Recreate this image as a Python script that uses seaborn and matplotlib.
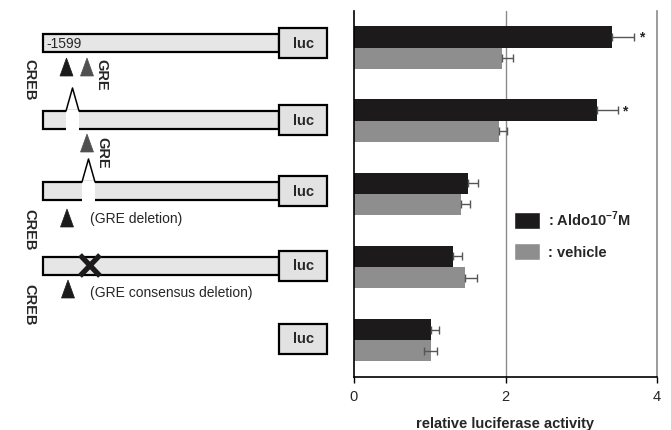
import matplotlib
matplotlib.use("Agg")
import matplotlib.pyplot as plt
from matplotlib.patches import Rectangle, Polygon, Patch
import pandas as pd
import seaborn as sns

# values
constructs = ["-1599", "CREB mut", "GRE del", "GRE cons del", "luc only"]
treatments = ["Aldo", "vehicle"]
aldo = [3.41, 3.21, 1.51, 1.31, 1.01]
aldo_err = [0.29, 0.27, 0.13, 0.11, 0.11]
vehicle = [1.96, 1.91, 1.41, 1.46, 1.01]
vehicle_err = [0.14, 0.11, 0.12, 0.16, 0.08]
vehicle_err_low = [0, 0, 0, 0, 0.08]
significant = [True, True, False, False, False]
xticks = [0, 2, 4]

BLACK = "#1c1a1b"
GRAY = "#8e8e8e"
FILL = "#e6e6e6"

sns.set_style("white")
plt.rcParams["font.family"] = ["Liberation Sans", "DejaVu Sans"]
plt.rcParams["mathtext.fontset"] = "custom"
plt.rcParams["mathtext.rm"] = "Liberation Sans"
plt.rcParams["mathtext.bf"] = "Liberation Sans:bold"

df = pd.DataFrame({
    "construct": constructs * 2,
    "activity": aldo + vehicle,
    "treatment": [treatments[0]] * 5 + [treatments[1]] * 5,
})

fig = plt.figure(figsize=(6.71, 4.31), dpi=100)
W, H = 671, 431

# schematic panel, drawn in pixel units
sch = fig.add_axes([0, 0, 1, 1], zorder=0)
sch.set_xlim(0, W)
sch.set_ylim(H, 0)
sch.axis("off")


def luc_box(yc):
    sch.add_patch(Rectangle((279, yc - 15), 48, 30, facecolor="#e2e2e2",
                            edgecolor="black", lw=1.6, zorder=3))
    sch.text(303, yc, "luc", ha="center", va="center", fontsize=10.5,
             fontweight="bold", zorder=4)


def promoter(yc, gap=None):
    sch.add_patch(Rectangle((43, yc - 9), 236, 18, facecolor=FILL,
                            edgecolor="black", lw=1.6, zorder=2))
    if gap is not None:
        g0, g1 = gap
        sch.add_patch(Rectangle((g0, yc - 10.5), g1 - g0, 21, facecolor="white",
                                edgecolor="none", zorder=2.5))
        sch.plot([g0, (g0 + g1) / 2, g1], [yc - 9, yc - 32, yc - 9],
                 color="black", lw=1.1, zorder=3)
    luc_box(yc)


def triangle(cx, ytop, color):
    sch.add_patch(Polygon([(cx - 6.5, ytop + 18), (cx + 6.5, ytop + 18), (cx, ytop)],
                          closed=True, facecolor=color, edgecolor=color,
                          lw=0.5, zorder=3))


def vlabel(x, y, s):
    sch.text(x, y, s, rotation=-90, ha="center", va="top", fontsize=10.5,
             fontweight="bold")


# row 1
promoter(44)
sch.text(46, 44, "-1599", ha="left", va="center", fontsize=10, zorder=4)
triangle(66.5, 59, BLACK)
triangle(87, 59, "#505050")
vlabel(101, 59, "GRE")
vlabel(29, 59, "CREB")

# row 2
promoter(121, gap=(66, 79))
triangle(87, 135, "#505050")
vlabel(102, 137, "GRE")

# row 3
promoter(192, gap=(82, 95))
triangle(67, 210, BLACK)
sch.text(90, 219, "(GRE deletion)", ha="left", va="center", fontsize=10)
vlabel(29, 209, "CREB")

# row 4
promoter(266.5)
sch.plot([80, 100], [256, 277], color=BLACK, lw=3.8, solid_capstyle="butt", zorder=4)
sch.plot([80, 100], [277, 256], color=BLACK, lw=3.8, solid_capstyle="butt", zorder=4)
triangle(68, 281, BLACK)
sch.text(90, 293, "(GRE consensus deletion)", ha="left", va="center", fontsize=10)
vlabel(29, 284, "CREB")

# row 5
luc_box(339.5)

# bar chart
ax = fig.add_axes([354 / W, 1 - 377.7 / H, 303 / W, 365.7 / H], zorder=1)
ax.set_facecolor("none")
sns.barplot(data=df, y="construct", x="activity", hue="treatment", orient="h",
            palette=[BLACK, GRAY], width=0.58, errorbar=None, legend=False,
            saturation=1, linewidth=0, ax=ax, zorder=2)

bars = ax.patches
for i, b in enumerate(bars[:5]):
    yc = b.get_y() + b.get_height() / 2
    ax.errorbar(aldo[i], yc, xerr=[[0], [aldo_err[i]]], fmt="none",
                ecolor="#555555", elinewidth=1, capsize=3, capthick=1, zorder=3)
    if significant[i]:
        ax.text(aldo[i] + aldo_err[i] + 0.06, yc, "*", ha="left", va="center",
                fontsize=10, fontweight="bold")
for i, b in enumerate(bars[5:10]):
    yc = b.get_y() + b.get_height() / 2
    ax.errorbar(vehicle[i], yc, xerr=[[vehicle_err_low[i]], [vehicle_err[i]]],
                fmt="none", ecolor="#555555", elinewidth=1, capsize=3,
                capthick=1, zorder=3)

ax.set_xlim(0, 4)
ax.set_ylim(4.5, -0.5)
ax.axvline(2, color="#8a8a8a", lw=1, zorder=1)
ax.set_xticks(xticks)
ax.set_xticklabels([str(t) for t in xticks], fontsize=10.5)
ax.set_yticks([])
ax.set_ylabel("")
ax.set_xlabel("relative luciferase activity", fontsize=10.5, fontweight="bold",
              labelpad=9)
ax.tick_params(axis="x", direction="out", length=4, width=1, color="black",
               bottom=True, pad=5)
for side in ["left", "bottom"]:
    ax.spines[side].set_color("black")
    ax.spines[side].set_linewidth(1.2)
ax.spines["top"].set_visible(False)
ax.spines["right"].set_color("#8a8a8a")
ax.spines["right"].set_linewidth(1.2)

handles = [Patch(facecolor=BLACK), Patch(facecolor=GRAY)]
labels = [r": Aldo10$^{\mathbf{-7}}$M", ": vehicle"]
leg = ax.legend(handles, labels, loc="upper left",
                bbox_to_anchor=(514 / W, 1 - 210 / H), bbox_transform=fig.transFigure,
                frameon=False, borderpad=0, borderaxespad=0, handlelength=1.8,
                handleheight=1.5, handletextpad=0.5, labelspacing=0.9,
                prop={"size": 10.5, "weight": "bold"})

fig.savefig("out.png", dpi=100)
